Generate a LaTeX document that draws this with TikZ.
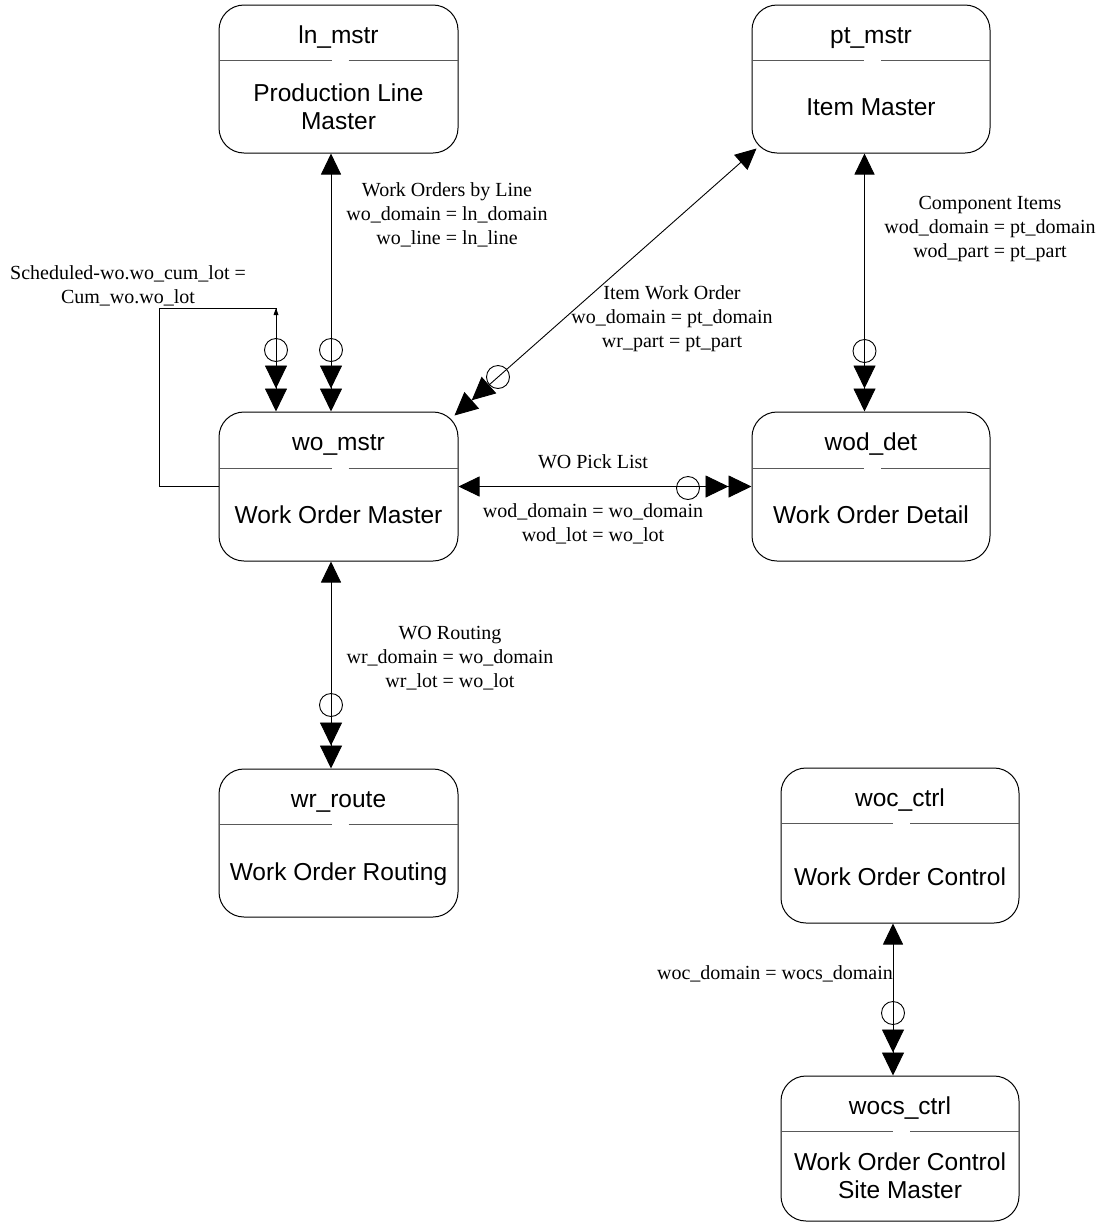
\documentclass[tikz,border=0pt]{standalone}
\usepackage{fontspec}
\setmainfont{Liberation Serif}
\newfontfamily\boxfont{Liberation Sans}
\usetikzlibrary{arrows.meta}
\newcommand\entsep[2]{%
  \draw[sepl] ([shift={(0,#2)}]#1.north west) -- ([shift={(-7,#2)}]#1.north);
  \draw[sepl] ([shift={(10,#2)}]#1.north) -- ([shift={(0,#2)}]#1.north east);}
\begin{document}
\begin{tikzpicture}[x=1pt,y=-1pt,
  ent/.style={draw, line width=1pt, rounded corners=25pt, inner sep=0pt},
  ttl/.style={font=\boxfont\fontsize{24.5}{28}\selectfont, anchor=base, inner sep=0pt},
  bod/.style={ttl, align=center},
  lbl/.style={font=\fontsize{20}{24}\selectfont, align=center, anchor=base, inner sep=0pt},
  sepl/.style={draw=black!65, line width=1pt},
  conn/.style={line width=0.9pt},
  many/.style={conn, -{Triangle[length=23pt,width=22pt,sep=0pt]Triangle[length=23pt,width=22pt]}},
  rel/.style={conn, {Triangle[length=21pt,width=20pt]}-{Triangle[length=23pt,width=22pt,sep=0pt]Triangle[length=23pt,width=22pt]}},
  crow/.style={circle, draw, line width=0.9pt, minimum size=23pt, inner sep=0pt},
]
\useasboundingbox (0,0) rectangle (1104,1224);

% entities
\node[ent, minimum width=239, minimum height=148] (ln) at (338.5,79) {};
\node[ent, minimum width=238, minimum height=148] (pt) at (871,79) {};
\node[ent, minimum width=239, minimum height=149] (wo) at (338.5,486.5) {};
\node[ent, minimum width=238, minimum height=149] (wod) at (871,486.5) {};
\node[ent, minimum width=239, minimum height=148] (wr) at (338.5,843) {};
\node[ent, minimum width=238, minimum height=155] (woc) at (900,845.5) {};
\node[ent, minimum width=238, minimum height=145] (wocs) at (900,1148.5) {};

\entsep{ln}{56}
\entsep{pt}{56}
\entsep{wo}{57}
\entsep{wod}{57}
\entsep{wr}{56}
\entsep{woc}{56}
\entsep{wocs}{56}

\node[ttl] (ln-t) at (338.5,43) {ln\_mstr};
\node[bod] (ln-b) at (338.5,129) {Production Line\\Master};
\node[ttl] (pt-t) at (871,43) {pt\_mstr};
\node[bod] (pt-b) at (871,115) {Item Master};
\node[ttl] (wo-t) at (338.5,450) {wo\_mstr};
\node[bod] (wo-b) at (338.5,523) {Work Order Master};
\node[ttl] (wod-t) at (871,450) {wod\_det};
\node[bod] (wod-b) at (871,523) {Work Order Detail};
\node[ttl] (wr-t) at (338.5,807) {wr\_route};
\node[bod] (wr-b) at (338.5,880) {Work Order Routing};
\node[ttl] (woc-t) at (900,806) {woc\_ctrl};
\node[bod] (woc-b) at (900,885) {Work Order Control};
\node[ttl] (wocs-t) at (900,1114) {wocs\_ctrl};
\node[bod] (wocs-b) at (900,1198) {Work Order Control\\Site Master};

% crow-foot circles
\node[crow] (c1) at (276,350) {};
\node[crow] (c2) at (331,350) {};
\node[crow] (c3) at (498,377) {};
\node[crow] (c4) at (864.5,351) {};
\node[crow] (c5) at (688,488) {};
\node[crow] (c6) at (331,705) {};
\node[crow] (c7) at (893,1013) {};

% connectors
\draw[rel] ([shift={(-7.5,0)}]ln.south) -- ([shift={(-7.5,0)}]wo.north);
\coordinate (lpA) at (159,308);
\coordinate (lpB) at (276,308);
\draw[many] (wo.west) -| (lpA) -- (lpB) -- ([shift={(-62.5,0)}]wo.north);
\fill (lpB) -- ++(-2.5,7) -- ++(5,0) -- cycle;
\draw[rel] ([shift={(5,-5)}]pt.south west) -- ([shift={(-4,4)}]wo.north east);
\draw[rel] ([shift={(-6.5,0)}]pt.south) -- ([shift={(-6.5,0)}]wod.north);
\draw[rel] (wo.east) -- (wod.west);
\draw[rel] ([shift={(-7.5,0)}]wo.south) -- ([shift={(-7.5,0)}]wr.north);
\draw[rel] ([shift={(-7,0)}]woc.south) -- ([shift={(-7,0)}]wocs.north);

% labels
\node[lbl] (l1) at (447,244) {Work Orders by Line\\wo\_domain = ln\_domain\\wo\_line = ln\_line};
\node[lbl] (l2) at (128,303) {Scheduled-wo.wo\_cum\_lot =\\Cum\_wo.wo\_lot};
\node[lbl] (l3) at (672,347) {Item Work Order\\wo\_domain = pt\_domain\\wr\_part = pt\_part};
\node[lbl] (l4) at (990,257) {Component Items\\wod\_domain = pt\_domain\\wod\_part = pt\_part};
\node[lbl] (l5) at (593,468) {WO Pick List};
\node[lbl] (l6) at (593,541) {wod\_domain = wo\_domain\\wod\_lot = wo\_lot};
\node[lbl] (l7) at (450,687) {WO Routing\\wr\_domain = wo\_domain\\wr\_lot = wo\_lot};
\node[lbl, anchor=base east] (l8) at (893,979) {woc\_domain = wocs\_domain};
\end{tikzpicture}
\end{document}
